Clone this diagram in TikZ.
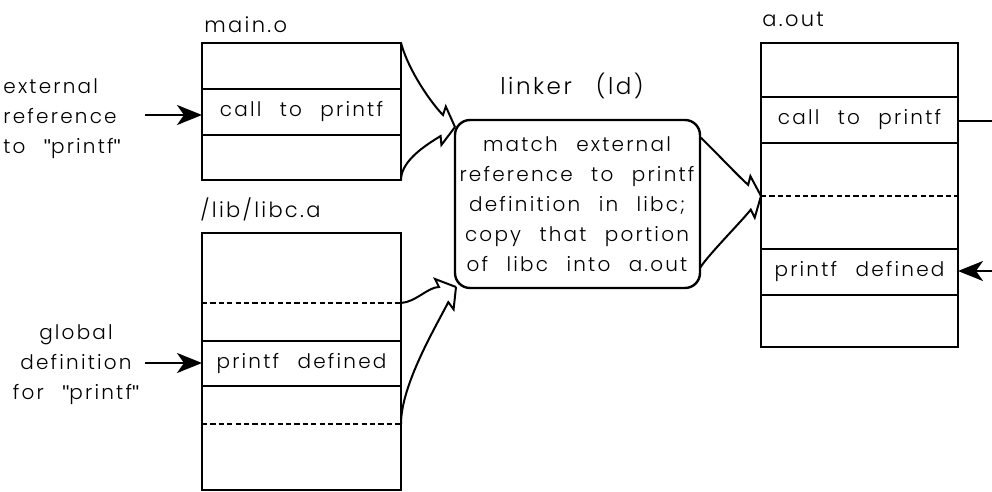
\documentclass[tikz,border=0pt]{standalone}
\usepackage{fontspec}
\setmainfont{Poppins}[UprightFont={* Light}, LetterSpace=11, WordSpace={2.4}]
\newfontfamily\quotefont{Liberation Sans}
\usetikzlibrary{calc,arrows.meta}

% straight double quote mark
\newcommand{\sq}{{\quotefont\char"0022}}

\tikzset{
  memblock/.style={draw, line width=1.2pt, inner sep=0pt, outer sep=0pt, anchor=north west},
  procbox/.style={draw, line width=1.2pt, rounded corners=7.5pt, inner sep=0pt, outer sep=0pt, anchor=north west},
  divider/.style={line width=0.75pt},
  dashrow/.style={line width=0.75pt, dash pattern=on 2.6pt off 1.6pt},
  celltext/.style={inner sep=0pt, font=\fontsize{10}{15}\selectfont},
  caption/.style={inner sep=0pt, font=\fontsize{10.5}{15}\selectfont},
  conn/.style={line width=1pt, line join=miter},
  pointer/.style={line width=1.2pt, -{Stealth[length=12.5pt, width=10pt, inset=3.5pt]}},
}

% A curved link ending in a single-barbed, notched head.
% #1 start, #2 first control, #3 tip, #4 travel angle, #5 barb side (+90/-90), #6 pull of last control
\newcommand{\zzlink}[6]{%
  \draw[conn] (#1) .. controls (#2) and ($(#3)+(#4+180:#6)$) .. ($(#3)+(#4+180:17)$)
    -- ($(#3)+(#4+180:21)+(#4#5:8)$) -- (#3);
}

\begin{document}
\begin{tikzpicture}[x=0.5pt, y=-0.5pt]
\useasboundingbox (0,0) rectangle (992,492);

% ---- main.o ----
\node[memblock, minimum width=99.5pt, minimum height=68.5pt] (main) at (202,43) {};
\draw[divider] (202,89) -- (401,89);
\draw[divider] (202,135) -- (401,135);
\node[caption, anchor=base west] (mainlbl) at (204,33) {main.o};
\node[celltext] (maincall) at (301.5,112) {call to printf};

% ---- /lib/libc.a ----
\node[memblock, minimum width=99.5pt, minimum height=128.5pt] (libc) at (202,233) {};
\draw[dashrow] (202,303) -- (401,303);
\draw[divider] (202,341) -- (401,341);
\draw[divider] (202,386) -- (401,386);
\draw[dashrow] (202,424) -- (401,424);
\node[caption, anchor=base west] (libclbl) at (200,218) {/lib/libc.a};
\node[celltext] (libcdef) at (301.5,363.5) {printf defined};

% ---- a.out ----
\node[memblock, minimum width=98.5pt, minimum height=152pt] (aout) at (761,43) {};
\draw[divider] (761,97) -- (958,97);
\draw[divider] (761,143) -- (958,143);
\draw[dashrow] (761,196) -- (958,196);
\draw[divider] (761,249) -- (958,249);
\draw[divider] (761,295) -- (958,295);
\node[caption, anchor=base west] (aoutlbl) at (762,27) {a.out};
\node[celltext] (aoutcall) at (859.5,120) {call to printf};
\node[celltext] (aoutdef) at (859.5,272) {printf defined};

% ---- linker ----
\node[procbox, minimum width=122.5pt, minimum height=84pt] (linker) at (455,120) {};
\node[caption, anchor=base, font=\fontsize{11.5}{15}\selectfont] (linkerlbl) at (572,95) {linker\hspace{12pt}(ld)};
\node[celltext, align=center] (linkertext) at (577,204)
  {match external\\reference to printf\\definition in libc;\\copy that portion\\of libc into a.out};

% ---- side notes ----
\node[celltext, align=left, anchor=west] (extnote) at (3,119) {external\\reference\\to \sq printf\sq};
\node[celltext, align=center] (globnote) at (76,365) {global\\definition\\for \sq printf\sq};

\coordinate (extsrc) at (145,115);
\draw[pointer] (extsrc) -- (extsrc -| main.west);
\coordinate (globsrc) at (145,363);
\draw[pointer] (globsrc) -- (globsrc -| libc.west);

\coordinate (callout) at (992,121);
\draw[divider] (callout -| aout.east) -- (callout);
\coordinate (defsrc) at (992,271);
\draw[pointer] (defsrc) -- (defsrc -| aout.east);

% ---- links into and out of the linker ----
\coordinate (intop) at ($(linker.north west)+(0,7)$);
\coordinate (inbot) at ($(linker.south west)+(1,-1)$);
\coordinate (outtip) at ($(aout.north west)+(0,153)$);
\coordinate (libcA) at ($(libc.north east)+(0,70)$);
\coordinate (libcB) at ($(libc.north east)+(0,191)$);
\coordinate (linkA) at ($(linker.north east)+(0,17)$);
\coordinate (linkB) at ($(linker.south east)+(0,-20)$);

\zzlink{main.north east}{409,72}{intop}{45}{-90}{32}
\zzlink{main.south east}{401,160}{intop}{-32}{+90}{32}
\zzlink{libcA}{416,302}{inbot}{0}{-90}{28}
\zzlink{libcB}{401,385}{inbot}{-63}{+90}{45}
\zzlink{linkA}{710,146}{outtip}{41}{-90}{30}
\zzlink{linkB}{708,255}{outtip}{-53}{+90}{30}
\end{tikzpicture}
\end{document}
